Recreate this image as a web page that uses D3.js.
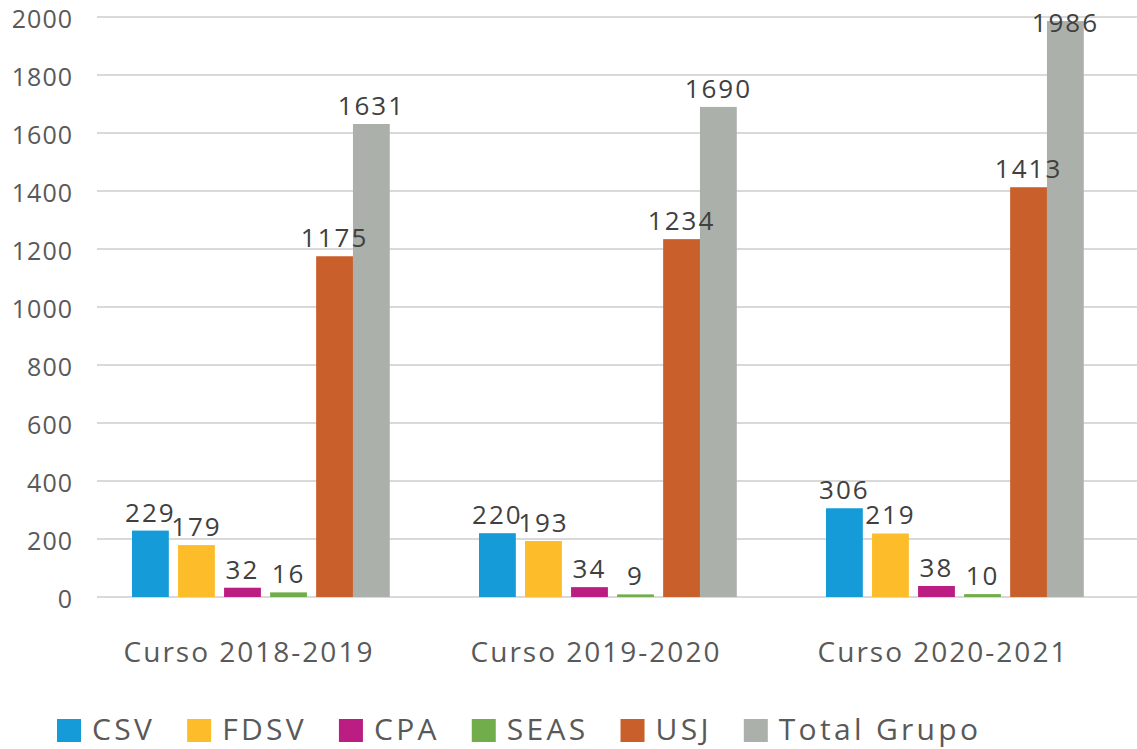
<!DOCTYPE html>
<html>
<head>
<meta charset="utf-8">
<script src="https://cdn.jsdelivr.net/npm/d3@7"></script>
<style>
  body { margin: 0; background: #fff; }
  svg text { font-family: "Open Sans", sans-serif; }
</style>
</head>
<body>
<svg id="chart" width="1137" height="749"></svg>
<script>
const courses = ["Curso 2018-2019", "Curso 2019-2020", "Curso 2020-2021"];
const series = ["CSV", "FDSV", "CPA", "SEAS", "USJ", "Total Grupo"];
const colors = ["#159bd7", "#fdbd2a", "#bb1d83", "#71ae4b", "#c9602c", "#acb0aa"];
const csv = [229, 220, 306];
const fdsv = [179, 193, 219];
const cpa = [32, 34, 38];
const seas = [16, 9, 10];
const usj = [1175, 1234, 1413];
const total = [1631, 1690, 1986];
const yTicks = [0, 200, 400, 600, 800, 1000, 1200, 1400, 1600, 1800, 2000];

const values = [csv, fdsv, cpa, seas, usj, total];

const svg = d3.select("#chart");

// scales
const y = d3.scaleLinear().domain([0, 2000]).range([597, 17]);
const x0 = d3.scaleBand().domain(courses).range([87.5, 1128.5]).padding(0);
const x1 = d3.scaleBand().domain(series).range([44.5, 311.5]).paddingInner(0.2);
const color = d3.scaleOrdinal().domain(series).range(colors);

// total bar sits flush against USJ
const barX = (s) => x1(s) - (s === "Total Grupo" ? x1.step() - x1.bandwidth() : 0);

// gridlines
svg.append("g")
  .selectAll("line")
  .data(yTicks)
  .join("line")
  .attr("x1", 97).attr("x2", 1137)
  .attr("y1", d => y(d)).attr("y2", d => y(d))
  .attr("stroke", "#d9d9d9")
  .attr("stroke-width", 2);

// y axis labels
const yAxis = svg.append("g")
  .attr("transform", "translate(73,0)")
  .call(d3.axisLeft(y).tickValues(yTicks).tickFormat(d3.format("d")).tickSize(0).tickPadding(0));
yAxis.select(".domain").remove();
yAxis.selectAll("text")
  .attr("dy", "0.42em")
  .attr("font-family", "Open Sans, sans-serif")
  .attr("font-size", 25)
  .attr("letter-spacing", 1)
  .attr("fill", "#595959");

// bars
const groups = svg.append("g")
  .selectAll("g")
  .data(courses)
  .join("g")
  .attr("transform", d => `translate(${x0(d)},0)`);

groups.selectAll("rect")
  .data((c, i) => series.map((s, k) => ({ s, v: values[k][i] })))
  .join("rect")
  .attr("x", d => barX(d.s))
  .attr("y", d => y(d.v))
  .attr("width", x1.bandwidth())
  .attr("height", d => y(0) - y(d.v))
  .attr("fill", d => color(d.s));

// value labels, kept inside the picture
groups.selectAll("text")
  .data((c, i) => series.map((s, k) => ({ s, v: values[k][i] })))
  .join("text")
  .attr("x", d => barX(d.s) + x1.bandwidth() / 2)
  .attr("y", d => Math.max(y(d.v) - 9, 32))
  .attr("text-anchor", "middle")
  .attr("font-size", 26)
  .attr("letter-spacing", 2)
  .attr("fill", "#404040")
  .text(d => d.v);

// x axis labels
const xAxis = svg.append("g")
  .attr("transform", "translate(-12,597)")
  .call(d3.axisBottom(x0).tickSize(0).tickPadding(0));
xAxis.select(".domain").remove();
xAxis.selectAll("text")
  .attr("dy", 0)
  .attr("y", 65)
  .attr("font-family", "Open Sans, sans-serif")
  .attr("font-size", 28)
  .attr("letter-spacing", 2)
  .attr("fill", "#595959");

// legend
const legend = svg.append("g").attr("transform", "translate(57,730)");
let lx = 0;
series.forEach(s => {
  const item = legend.append("g").attr("transform", `translate(${lx},0)`);
  item.append("rect")
    .attr("x", 0).attr("y", -11)
    .attr("width", 24).attr("height", 23)
    .attr("fill", color(s));
  const t = item.append("text")
    .attr("x", 35).attr("y", 10)
    .attr("font-size", 30)
    .attr("letter-spacing", 3.3)
    .attr("fill", "#595959")
    .text(s);
  lx += 35 + t.node().getComputedTextLength() + 32;
});
</script>
</body>
</html>
